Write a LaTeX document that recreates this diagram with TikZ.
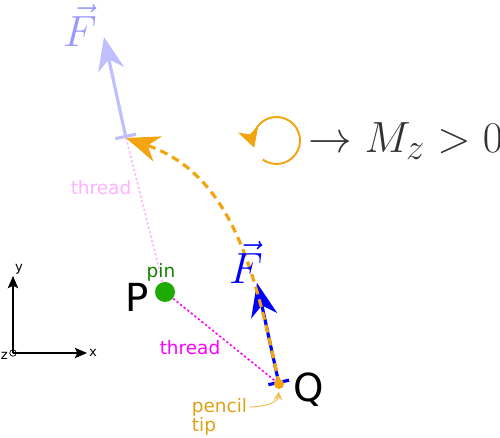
\documentclass[tikz,border=0pt]{standalone}
\usepackage{fontspec}
\newfontfamily\labelfont{DejaVu Sans}
\usetikzlibrary{arrows.meta}
\definecolor{pencil}{RGB}{242,164,17}
\definecolor{pindot}{RGB}{30,170,0}
\definecolor{pintext}{RGB}{20,130,0}
\definecolor{tiptext}{RGB}{222,160,20}
\definecolor{momtext}{RGB}{50,50,50}
\definecolor{threadcol}{RGB}{255,0,255}

\begin{document}
\begin{tikzpicture}[>=latex,
	every node/.style={font=\labelfont},
	force/.style={blue, line width=1.8pt, {Bar[width=12pt]}-{Stealth[length=19pt,width=15pt,inset=6pt]}},
	oldforce/.style={force, blue!25},
	penpath/.style={pencil, line width=1.8pt, dash pattern=on 4.5pt off 3pt, -{Stealth[length=19pt,width=15pt,inset=6pt]}},
	thread/.style={threadcol, line width=0.9pt, dash pattern=on 1.3pt off 1.3pt},
	oldthread/.style={thread, threadcol!30},
	axis/.style={black, line width=0.6pt, -{Stealth[length=7pt,width=6pt,inset=1.5pt]}},
	mydot/.style={circle, fill, inner sep=0pt},
	bigmath/.style={font=\fontsize{24.88}{28}\selectfont},
	bigletter/.style={font=\labelfont\fontsize{22}{26}\selectfont},
	smalllabel/.style={font=\labelfont\fontsize{10.5}{11}\selectfont},
	tinylabel/.style={font=\labelfont\fontsize{7.5}{8}\selectfont, inner sep=1pt}]

	\useasboundingbox (0,0) rectangle (10,8.76);

	% axes
	\coordinate (o) at (0.26,1.70);
	\coordinate[label={[tinylabel]right:x}] (ex) at (1.74,1.70);
	\coordinate[label={[tinylabel]above right:y}] (ey) at (0.26,3.24);
	\draw[axis] (o) -- (ex);
	\draw[axis] (o) -- (ey);
	\draw[line width=0.4pt] (o) circle (0.065);
	\fill (o) circle (0.015);
	\node[tinylabel, anchor=east] (z) at (0.20,1.65) {z};

	% points
	\node[mydot, pindot, minimum size=0.4cm] (p) at (3.30,2.92) {};
	\coordinate (q) at (5.58,1.08);
	\coordinate (qold) at (2.52,6.00);
	\coordinate (f) at (5.14,3.10);
	\coordinate (fold) at (2.08,8.02);

	% threads
	\draw[oldthread] (p) -- (qold);
	\draw[thread] (p) -- (q);

	% forces
	\draw[oldforce] (qold) -- (fold);
	\draw[force] (q) -- (f);

	% path of the pencil tip
	\draw[penpath] (q) to[out=102, in=-19] (qold);
	\node[mydot, pencil, minimum size=0.2cm] (qdot) at (q) {};

	% labels
	\node[smalllabel, pintext] (pin) at (3.22,3.32) {pin};
	\node[bigletter] (plabel) at (2.74,2.81) {P};
	\node[bigletter] (qlabel) at (6.18,0.97) {Q};
	\node[smalllabel, threadcol] (thr) at (3.80,1.80) {thread};
	\node[smalllabel, threadcol!30] (throld) at (2.02,5.00) {thread};
	\node[bigmath, blue] (flabel) at (4.92,3.52) {$\vec{F}$};
	\node[bigmath, blue!40] (foldlabel) at (1.60,8.26) {$\vec{F}$};

	\node[smalllabel, tiptext, align=left] (tip) at (4.39,0.42) {pencil\\tip};
	\coordinate (tipstart) at (5.00,0.62);
	\draw[pencil!70, line width=0.6pt, shorten >=1.2pt, -{Stealth[length=5pt,width=5pt]}] (tipstart) to[out=0, in=-95] (qdot.south);

	% moment
	\coordinate (rot) at (5.53,5.95);
	\draw[pencil, line width=1.1pt, -{Stealth[length=11pt,width=12pt,inset=3pt]}] ([shift={(-126:0.47)}]rot) arc[start angle=-126, end angle=198, radius=0.47];
	\node[bigmath, momtext, anchor=west, inner sep=0pt] (mz) at (6.17,5.94) {$\rightarrow M_z > 0$};

\end{tikzpicture}
\end{document}
